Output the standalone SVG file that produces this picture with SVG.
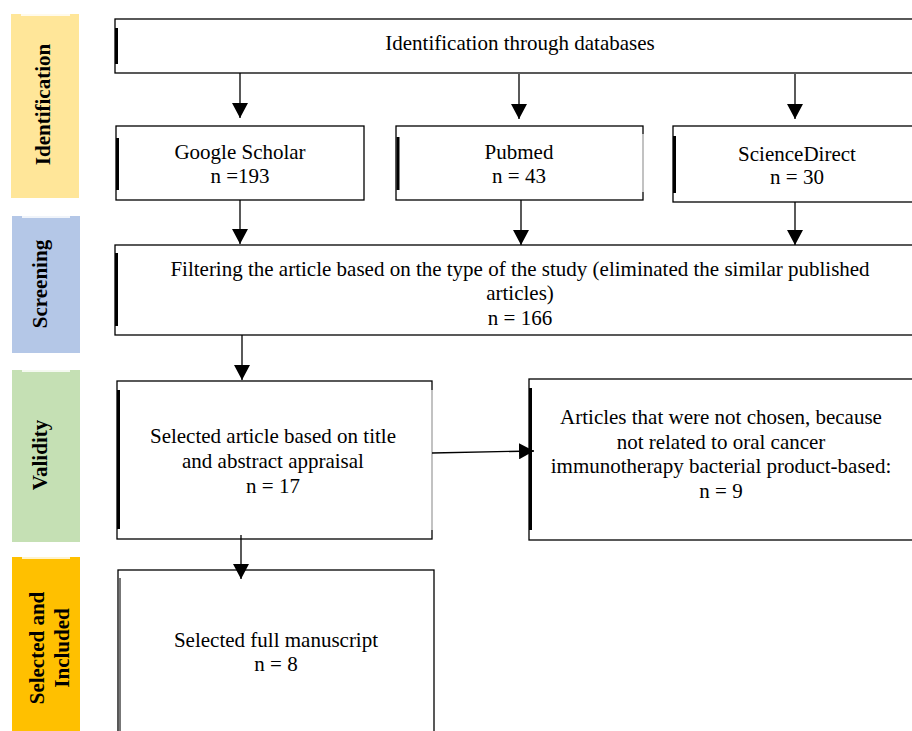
<svg xmlns="http://www.w3.org/2000/svg" width="912" height="731" viewBox="0 0 912 731">
<style>
.box{fill:#fff;stroke:#000;stroke-width:1.3}
.edge{stroke:#000;stroke-width:3}
.gray{stroke:#999;stroke-width:1.2}
.tick{stroke:#000;stroke-width:1.3}
.t{font-family:"Liberation Serif","Times New Roman",serif;font-size:21px;fill:#000;text-anchor:middle}
.lab{font-family:"Liberation Serif","Times New Roman",serif;font-size:21px;font-weight:bold;fill:#000;text-anchor:middle}
.con{stroke:#000;stroke-width:1.3;fill:none;marker-end:url(#ah)}
.notch{fill:#fff;opacity:0.8}
</style>
<defs>
<marker id="ah" markerUnits="userSpaceOnUse" markerWidth="16" markerHeight="16" viewBox="0 0 16 16" refX="15" refY="8" orient="auto">
<path d="M0,0 L15,8 L0,16 Z" fill="#000"/>
</marker>
</defs>
<rect width="912" height="731" fill="#fff"/>

<g id="stage-identification">
<rect x="11" y="14" width="68" height="184" fill="#FFE699"/>
<rect class="notch" x="21" y="14" width="49" height="2"/>
<text class="lab" transform="translate(50,104.5) rotate(-90)">Identification</text>
</g>
<g id="stage-screening">
<rect x="12" y="216" width="68" height="137" fill="#B4C7E7"/>
<rect class="notch" x="22" y="216" width="48" height="2"/>
<text class="lab" transform="translate(47,284) rotate(-90)">Screening</text>
</g>
<g id="stage-validity">
<rect x="12" y="370" width="68" height="172" fill="#C5E0B4"/>
<rect class="notch" x="22" y="370" width="48" height="2"/>
<text class="lab" transform="translate(47,455) rotate(-90)">Validity</text>
</g>
<g id="stage-selected">
<rect x="12" y="557" width="68" height="180" fill="#FFC000"/>
<rect class="notch" x="22" y="557" width="48" height="2"/>
<text class="lab" transform="translate(44,648) rotate(-90)">Selected and</text>
<text class="lab" transform="translate(69,648) rotate(-90)">Included</text>
</g>

<g id="node-identification">
<rect class="box" x="115" y="19" width="800" height="54"/>
<line class="edge" x1="116.5" y1="28" x2="116.5" y2="64"/>
<text class="t" x="520" y="50">Identification through databases</text>
</g>
<g id="node-google">
<rect class="box" x="116" y="126" width="248" height="74"/>
<line class="edge" x1="117.5" y1="138" x2="117.5" y2="190"/>
<text class="t" x="240" y="159">Google Scholar</text>
<text class="t" x="240" y="183">n =193</text>
</g>
<g id="node-pubmed">
<rect class="box" x="396" y="126" width="247" height="74"/>
<line x1="643" y1="134" x2="643" y2="192" stroke="#fff" stroke-width="2"/>
<line class="gray" x1="643" y1="134" x2="643" y2="192"/>
<line class="edge" x1="398" y1="137" x2="398" y2="190"/>
<text class="t" x="519" y="159">Pubmed</text>
<text class="t" x="519" y="183">n = 43</text>
</g>
<g id="node-sciencedirect">
<rect class="box" x="673" y="126" width="242" height="76"/>
<line class="edge" x1="674.5" y1="136" x2="674.5" y2="193"/>
<text class="t" x="797" y="161">ScienceDirect</text>
<text class="t" x="797" y="184">n = 30</text>
</g>
<g id="node-screening">
<rect class="box" x="115" y="245" width="800" height="90"/>
<line class="edge" x1="116.5" y1="253" x2="116.5" y2="326"/>
<text class="t" x="520" y="276">Filtering the article based on the type of the study (eliminated the similar published</text>
<text class="t" x="520" y="300">articles)</text>
<text class="t" x="520" y="325">n = 166</text>
</g>
<g id="node-validity">
<rect class="box" x="117" y="381" width="315" height="158"/>
<line x1="432" y1="390" x2="432" y2="530" stroke="#fff" stroke-width="2"/>
<line class="gray" x1="432" y1="390" x2="432" y2="530"/>
<line class="edge" x1="118.5" y1="390" x2="118.5" y2="529"/>
<text class="t" x="273" y="443">Selected article based on title</text>
<text class="t" x="273" y="468">and abstract appraisal</text>
<text class="t" x="273" y="493">n = 17</text>
</g>
<g id="node-excluded">
<rect class="box" x="529" y="379" width="386" height="161"/>
<line class="edge" x1="530.5" y1="388" x2="530.5" y2="530"/>
<text class="t" x="721" y="424">Articles that were not chosen, because</text>
<text class="t" x="721" y="449">not related to oral cancer</text>
<text class="t" x="721" y="473">immunotherapy bacterial product-based:</text>
<text class="t" x="721" y="498">n = 9</text>
</g>
<g id="node-final">
<rect class="box" x="118" y="570" width="316" height="170"/>
<line x1="120" y1="578" x2="120" y2="731" stroke="#777" stroke-width="2"/>
<text class="t" x="276" y="647">Selected full manuscript</text>
<text class="t" x="276" y="671">n = 8</text>
</g>

<g id="connectors">
<line class="con" x1="240" y1="73" x2="240" y2="118"/>
<line class="con" x1="519" y1="74" x2="519" y2="119"/>
<line class="con" x1="795" y1="74" x2="795" y2="119"/>
<line class="con" x1="240" y1="200" x2="240" y2="244"/>
<line class="con" x1="521" y1="200" x2="521" y2="245"/>
<line class="con" x1="795" y1="202" x2="795" y2="245"/>
<line class="con" x1="242" y1="335" x2="242" y2="380"/>
<line class="con" x1="432" y1="453" x2="534" y2="451"/>
<line class="con" x1="241" y1="535" x2="241" y2="579"/>
</g>
</svg>
